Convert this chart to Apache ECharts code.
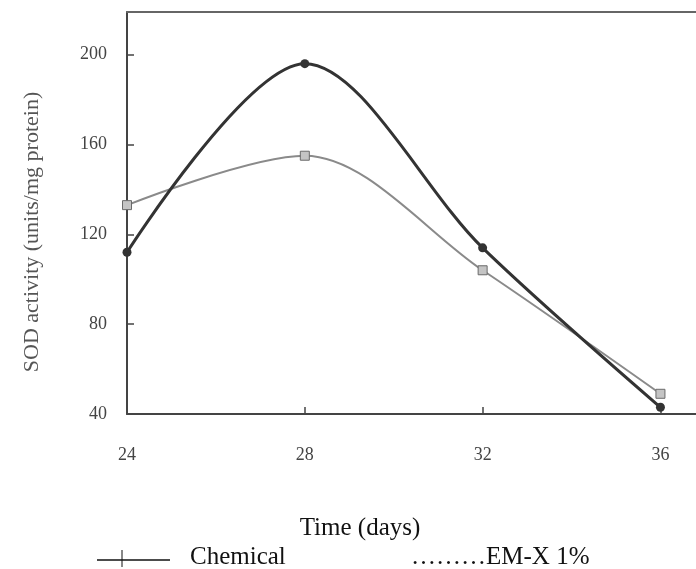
<!DOCTYPE html>
<html><head><meta charset="utf-8">
<script src="https://cdn.jsdelivr.net/npm/echarts@6/dist/echarts.min.js"></script>
<style>html,body{margin:0;padding:0;background:#fff}#c{width:696px;height:569px}</style>
</head><body><div id="c"></div>
<script>
var days = [24, 28, 32, 36];
var chemical = [112, 196, 114, 43];
var emx = [133, 155, 104, 49];
var seriesNames = ['Chemical', 'EM-X 1%'];
var xTitle = 'Time (days)';
var yTitle = 'SOD activity (units/mg protein)';

var serif = '"Liberation Serif", "DejaVu Serif", serif';
var chart = echarts.init(document.getElementById('c'));
function pairs(xs, ys){ return xs.map(function(x,i){return [x, ys[i]];}); }
chart.setOption({
  animation: false,
  backgroundColor: '#fff',
  grid: {left: 127, top: 12, right: 0, bottom: 155},
  xAxis: [{
    type: 'value', min: 24, max: 36.8, interval: 4,
    axisLine: {show: true, lineStyle: {color: '#444', width: 2}},
    axisTick: {show: true, inside: true, length: 7, lineStyle: {color: '#444', width: 1.5}},
    axisLabel: {fontFamily: serif, fontSize: 18, color: '#444', margin: 32, showMaxLabel: false,
      formatter: function(v){ return (v % 4 === 0) ? String(v) : ''; }},
    splitLine: {show: false}
  }, {
    type: 'value', position: 'top', min: 24, max: 36.8,
    axisLine: {show: true, onZero: false, lineStyle: {color: '#666', width: 2}},
    axisTick: {show: false}, axisLabel: {show: false}, splitLine: {show: false}
  }],
  yAxis: {
    type: 'value', min: 40, max: 219, interval: 40,
    axisLine: {show: true, lineStyle: {color: '#444', width: 2}},
    axisTick: {show: true, inside: true, length: 7, lineStyle: {color: '#444', width: 1.5}},
    axisLabel: {fontFamily: serif, fontSize: 18, color: '#444', margin: 20, showMaxLabel: false},
    splitLine: {show: false}
  },
  series: [{
    name: seriesNames[0], type: 'line', smooth: 0.32, data: pairs(days, chemical),
    symbol: 'circle', symbolSize: 9,
    lineStyle: {color: '#333', width: 3},
    itemStyle: {color: '#333'}, z: 3
  }, {
    name: seriesNames[1], type: 'line', smooth: 0.32, data: pairs(days, emx),
    symbol: 'rect', symbolSize: 9,
    lineStyle: {color: '#8a8a8a', width: 2},
    itemStyle: {color: '#c4c4c4', borderColor: '#6a6a6a', borderWidth: 1}, z: 2
  }],
  graphic: [
    {type: 'text', x: 32, y: 232, rotation: Math.PI / 2,
      style: {text: yTitle, font: '22px ' + serif, fill: '#555', align: 'center', verticalAlign: 'middle'}},
    {type: 'text', x: 360, y: 528,
      style: {text: xTitle, font: '25px ' + serif, fill: '#111', align: 'center', verticalAlign: 'middle'}},
    {type: 'line', shape: {x1: 97, y1: 560, x2: 170, y2: 560}, style: {stroke: '#111', lineWidth: 1.5}},
    {type: 'line', shape: {x1: 122, y1: 550, x2: 122, y2: 567}, style: {stroke: '#111', lineWidth: 1}},
    {type: 'text', x: 190, y: 557,
      style: {text: seriesNames[0], font: '25px ' + serif, fill: '#111', align: 'left', verticalAlign: 'middle'}},
    {type: 'text', x: 411, y: 557,
      style: {text: '\u2026\u2026\u2026' + seriesNames[1], font: '25px ' + serif, fill: '#111', align: 'left', verticalAlign: 'middle'}}
  ]
});
</script></body></html>
